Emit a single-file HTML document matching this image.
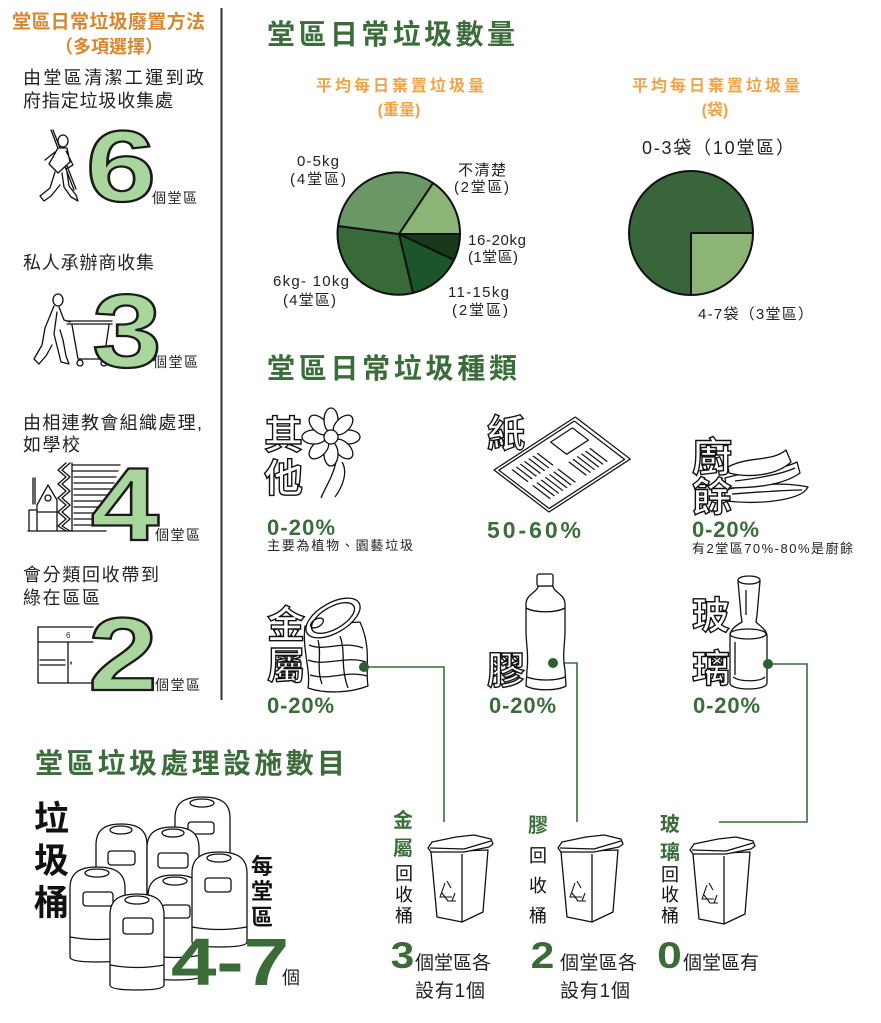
<!DOCTYPE html>
<html><head><meta charset="utf-8">
<style>
html,body{margin:0;padding:0;background:#fff;}
body{width:881px;height:1023px;overflow:hidden;}
svg{display:block;}
.o{fill:#fff;stroke:#111;stroke-width:1.4;font-weight:bold;}
.ln{fill:none;stroke:#111;stroke-width:1.3;stroke-linejoin:round;stroke-linecap:round;}
.wf{fill:#fff;stroke:#111;stroke-width:1.3;stroke-linejoin:round;}
</style></head>
<body>
<svg width="881" height="1023" viewBox="0 0 881 1023" xmlns="http://www.w3.org/2000/svg" font-family='"Liberation Sans","Noto Sans CJK TC",sans-serif'>

<!-- divider -->
<line x1="221.5" y1="8" x2="221.5" y2="700" stroke="#333" stroke-width="2"/>

<!-- LEFT COLUMN -->
<text x="12" y="28" font-size="19" font-weight="bold" fill="#d8872e" textLength="193">堂區日常垃圾廢置方法</text>
<text x="109" y="53" text-anchor="middle" font-size="18" font-weight="bold" fill="#d8872e">（多項選擇）</text>
<g font-size="18" fill="#222">
<text x="23" y="84" textLength="181">由堂區清潔工運到政</text>
<text x="23" y="107" textLength="150">府指定垃圾收集處</text>
<text x="23" y="269" textLength="131">私人承辦商收集</text>
<text x="23" y="429" textLength="179">由相連教會組織處理,</text>
<text x="23" y="451" textLength="57">如學校</text>
<text x="23" y="581" textLength="136">會分類回收帶到</text>
<text x="23" y="604" textLength="77">綠在區區</text>
</g>

<!-- worker -->
<g class="ln">
<line x1="51" y1="130" x2="74" y2="190"/>
<line x1="53" y1="130" x2="76" y2="189"/>
<ellipse cx="63" cy="141" rx="5" ry="6" fill="#fff"/>
<path d="M58,148 L49,164 L58,173 L70,162 L67,148 Z" fill="#fff"/>
<path d="M66,151 L73,165 L66,169"/>
<path d="M55,172 L50,188 L40,196 L44,201 L51,196 L60,185"/>
<path d="M62,173 L64,187 L71,197 L78,201 L76,195 L69,186 L67,172"/>
<path d="M45,160 L55,152"/>
</g>
<text transform="translate(121,201) scale(1.25,1)" text-anchor="middle" font-size="101" font-weight="bold" fill="#a9d69c" stroke="#1a1a1a" stroke-width="2.2">6</text>
<text x="152" y="203" font-size="14" fill="#222" textLength="45">個堂區</text>

<!-- cart person -->
<g class="ln">
<ellipse cx="58" cy="300" rx="5" ry="6"/>
<path d="M54,306 L45,328 L42,345 L34,359 L39,364 L46,356 L52,345"/>
<path d="M59,307 L64,320 L70,322"/>
<path d="M57,312 L54,334 L58,350 L61,362 L69,364 L66,356 L63,340 L60,330"/>
<line x1="67" y1="321" x2="112" y2="321"/>
<line x1="67" y1="324" x2="112" y2="324"/>
<path d="M72,325 L78,359 L104,359 L109,325"/>
<circle cx="80" cy="363" r="3"/>
<circle cx="104" cy="363" r="3"/>
</g>
<text transform="translate(127,367) scale(1.2,1)" text-anchor="middle" font-size="104" font-weight="bold" fill="#a9d69c" stroke="#1a1a1a" stroke-width="2.2">3</text>
<text x="153" y="367" font-size="14" fill="#222" textLength="45">個堂區</text>

<!-- building -->
<g class="ln" stroke-width="1.2">
<line x1="72" y1="465" x2="120" y2="465"/>
<line x1="72" y1="471" x2="118" y2="471"/>
<line x1="74" y1="477" x2="116" y2="477"/>
<line x1="74" y1="483" x2="114" y2="483"/>
<line x1="74" y1="489" x2="112" y2="489"/>
<line x1="74" y1="495" x2="110" y2="495"/>
<line x1="74" y1="501" x2="108" y2="501"/>
<line x1="74" y1="507" x2="106" y2="507"/>
<line x1="74" y1="513" x2="104" y2="513"/>
<line x1="74" y1="519" x2="102" y2="519"/>
<line x1="74" y1="525" x2="100" y2="525"/>
<line x1="72" y1="463" x2="72" y2="531"/>
<polyline points="66,463 58,470 66,477 58,484 66,491 58,498 66,505 58,512 66,519 58,526 66,531"/>
<polyline points="70,463 62,470 70,477 62,484 70,491 62,498 70,505 62,512 70,519 62,526 70,531"/>
<line x1="33" y1="478" x2="33" y2="504"/>
<line x1="35" y1="478" x2="35" y2="504"/>
<path d="M37,530 L37,505 L48,485 L57,500 L57,530"/>
<circle cx="48" cy="498" r="3"/>
<path d="M29,530 L29,510 L37,510"/>
<path d="M37,512 L57,512"/>
<line x1="28" y1="531" x2="106" y2="531"/>
</g>
<text transform="translate(125,540) scale(1.18,1)" text-anchor="middle" font-size="104" font-weight="bold" fill="#a9d69c" stroke="#1a1a1a" stroke-width="2.2">4</text>
<text x="155" y="540" font-size="14" fill="#222" textLength="45">個堂區</text>

<!-- cabinet -->
<g class="ln" stroke-width="1.2">
<line x1="38" y1="627" x2="93" y2="627"/>
<line x1="38" y1="642" x2="93" y2="642"/>
<line x1="38" y1="627" x2="38" y2="683"/>
<line x1="38" y1="683" x2="93" y2="683"/>
<line x1="68" y1="642" x2="68" y2="683"/>
<line x1="40" y1="660" x2="65" y2="660"/>
<line x1="40" y1="665" x2="65" y2="665"/>
<line x1="71" y1="662" x2="71" y2="664"/>
</g>
<text x="66" y="638" font-size="8" fill="#222">6</text>
<text transform="translate(123,690) scale(1.2,1)" text-anchor="middle" font-size="104" font-weight="bold" fill="#a9d69c" stroke="#1a1a1a" stroke-width="2.2">2</text>
<text x="155" y="690" font-size="14" fill="#222" textLength="45">個堂區</text>

<!-- RIGHT: quantities -->
<text x="267" y="44" font-size="28" font-weight="bold" fill="#3b6d3b" textLength="248">堂區日常垃圾數量</text>
<text x="316" y="91" font-size="16" font-weight="bold" fill="#f0a449" textLength="168">平均每日棄置垃圾量</text>
<text x="399" y="115" text-anchor="middle" font-size="16" font-weight="bold" fill="#f0a449">(重量)</text>
<text x="632" y="91" font-size="16" font-weight="bold" fill="#f0a449" textLength="168">平均每日棄置垃圾量</text>
<text x="715" y="115" text-anchor="middle" font-size="16" font-weight="bold" fill="#f0a449">(袋)</text>

<!-- pie 1 -->
<g stroke="#111" stroke-width="2" stroke-linejoin="round">
<path d="M399,234 L433,183 A61,61 0 0 1 460,234 Z" fill="#8cb476"/>
<path d="M399,234 L460,234 A61,61 0 0 1 454,260 Z" fill="#173a1b"/>
<path d="M399,234 L454,260 A61,61 0 0 1 413,293 Z" fill="#1d552a"/>
<path d="M399,234 L413,293 A61,61 0 0 1 338,226 Z" fill="#386a39"/>
<path d="M399,234 L338,226 A61,61 0 0 1 433,183 Z" fill="#6b9766"/>
</g>
<g font-size="15" fill="#222">
<text x="297" y="166" textLength="42">0-5kg</text>
<text x="290" y="184" textLength="56">(4堂區)</text>
<text x="458" y="175" textLength="48">不清楚</text>
<text x="454" y="192" textLength="55">(2堂區)</text>
<text x="468" y="245" textLength="58">16-20kg</text>
<text x="468" y="262" textLength="50">(1堂區)</text>
<text x="273" y="286" textLength="76">6kg- 10kg</text>
<text x="283" y="305" textLength="53">(4堂區)</text>
<text x="448" y="297" textLength="61">11-15kg</text>
<text x="452" y="315" textLength="56">(2堂區)</text>
</g>

<!-- pie 2 -->
<g stroke="#111" stroke-width="2" stroke-linejoin="round">
<path d="M691,233 L691,295 A62,62 0 1 1 753,233 Z" fill="#38663a"/>
<path d="M691,233 L753,233 A62,62 0 0 1 691,295 Z" fill="#8cb476"/>
</g>
<text x="642" y="154" font-size="18" fill="#222" textLength="152">0-3袋（10堂區）</text>
<text x="698" y="319" font-size="15" fill="#222" textLength="115">4-7袋（3堂區）</text>

<!-- TYPES -->
<text x="267" y="378" font-size="28" font-weight="bold" fill="#3b6d3b" textLength="250">堂區日常垃圾種類</text>

<!-- 其他 flower -->
<text x="264" y="449" font-size="39" class="o">其</text>
<text x="264" y="492" font-size="39" class="o">他</text>
<g class="wf">
<path d="M336,462 C333,476 326,486 321,498" fill="none"/>
<path d="M342,462 C348,472 343,486 335,497" fill="none"/>
<g transform="translate(331,437)">
<ellipse cx="17" cy="0" rx="12" ry="7" transform="rotate(0)"/>
<ellipse cx="17" cy="0" rx="12" ry="7" transform="rotate(45)"/>
<ellipse cx="17" cy="0" rx="12" ry="7" transform="rotate(90)"/>
<ellipse cx="17" cy="0" rx="12" ry="7" transform="rotate(135)"/>
<ellipse cx="17" cy="0" rx="12" ry="7" transform="rotate(180)"/>
<ellipse cx="17" cy="0" rx="12" ry="7" transform="rotate(225)"/>
<ellipse cx="17" cy="0" rx="12" ry="7" transform="rotate(270)"/>
<ellipse cx="17" cy="0" rx="12" ry="7" transform="rotate(315)"/>
<circle cx="0" cy="0" r="7"/>
</g>
</g>
<text x="267" y="535" font-size="22" font-weight="bold" fill="#3b6d3b" textLength="68">0-20%</text>
<text x="267" y="550" font-size="13" fill="#222" textLength="146">主要為植物、園藝垃圾</text>

<!-- 紙 newspaper -->
<g transform="matrix(0.838,-0.546,0.797,0.609,494,470)" class="wf" stroke-width="1.2">
<rect x="0" y="0" width="97" height="69"/>
<rect x="3" y="3" width="90" height="63" fill="none"/>
<g fill="none">
<line x1="12" y1="10" x2="12" y2="30"/><line x1="17" y1="10" x2="17" y2="30"/><line x1="22" y1="10" x2="22" y2="30"/><line x1="27" y1="10" x2="27" y2="30"/><line x1="32" y1="10" x2="32" y2="30"/><line x1="37" y1="10" x2="37" y2="30"/><line x1="42" y1="10" x2="42" y2="30"/>
<line x1="12" y1="36" x2="12" y2="58"/><line x1="17" y1="36" x2="17" y2="58"/><line x1="22" y1="36" x2="22" y2="58"/><line x1="27" y1="36" x2="27" y2="58"/><line x1="32" y1="36" x2="32" y2="58"/><line x1="37" y1="36" x2="37" y2="58"/><line x1="42" y1="36" x2="42" y2="58"/>
<rect x="60" y="8" width="26" height="20"/>
<line x1="55" y1="36" x2="55" y2="58"/><line x1="60" y1="36" x2="60" y2="58"/><line x1="65" y1="36" x2="65" y2="58"/><line x1="70" y1="36" x2="70" y2="58"/><line x1="75" y1="36" x2="75" y2="58"/><line x1="80" y1="36" x2="80" y2="58"/>
</g>
</g>
<text x="487" y="447" font-size="38" class="o">紙</text>
<text x="487" y="538" font-size="23" font-weight="bold" fill="#3b6d3b" textLength="94">50-60%</text>

<!-- 廚餘 food -->
<g class="wf" stroke-width="1.2">
<path d="M724,490 C752,484 786,482 808,487 C802,500 762,505 726,501 Z"/>
<path d="M725,478 C752,470 782,470 797,462 L800,473 C782,486 752,488 726,488 Z"/>
<path d="M728,467 C748,456 772,462 786,450 L791,462 C776,476 748,478 729,473 Z"/>
<path d="M732,494 C760,492 785,490 802,490" fill="none"/>
<path d="M735,481 C760,478 782,474 795,468" fill="none"/>
</g>
<text x="692" y="471" font-size="40" class="o">廚</text>
<text x="692" y="511" font-size="40" class="o">餘</text>
<text x="692" y="537" font-size="22" font-weight="bold" fill="#3b6d3b" textLength="67">0-20%</text>
<text x="692" y="553" font-size="13" fill="#222" textLength="161">有2堂區70%-80%是廚餘</text>

<!-- connectors -->
<g stroke="#3d6b3d" stroke-width="1.6" fill="none">
<polyline points="364,667 444,667 444,822"/>
<polyline points="553,663 577,663 577,822"/>
<polyline points="768,664 807,664 807,822 719,822"/>
</g>

<!-- 金屬 can -->
<g class="wf" stroke-width="1.2">
<path d="M305,626 C302,650 311,670 308,688 C325,694 350,693 368,686 C365,670 372,648 360,622 Z"/>
<path d="M309,645 C325,652 342,640 363,648" fill="none"/>
<path d="M308,660 C326,667 346,655 366,662" fill="none"/>
<path d="M310,675 C330,681 346,670 367,676" fill="none"/>
<path d="M318,640 C322,655 316,668 322,684" fill="none"/>
<path d="M340,636 C346,652 340,666 348,688" fill="none"/>
<ellipse cx="333" cy="618" rx="30" ry="15" transform="rotate(-30 333 618)"/>
<ellipse cx="333" cy="618" rx="24" ry="11" transform="rotate(-30 333 618)" fill="none"/>
<ellipse cx="317" cy="623" rx="7" ry="4" transform="rotate(-30 317 623)" fill="none"/>
</g>
<text x="267" y="638" font-size="38" class="o">金</text>
<text x="267" y="679" font-size="38" class="o">屬</text>
<circle cx="364" cy="667" r="5" fill="#2f5e30"/>
<text x="267" y="713" font-size="22" font-weight="bold" fill="#3b6d3b" textLength="67">0-20%</text>

<!-- 膠 bottle -->
<g class="wf" stroke-width="1.3">
<path d="M538,586 C538,592 526,594 526,604 L526,630 C526,645 529,655 527,670 L526,686 C535,691 557,691 566,686 L565,670 C562,655 565,645 565,630 L565,604 C565,594 553,592 553,586 Z"/>
<rect x="537" y="574" width="16" height="12" rx="2"/>
<path d="M526,608 C535,613 556,613 565,608" fill="none"/>
<path d="M527,677 C537,681 556,681 565,677" fill="none"/>
</g>
<text x="487" y="684" font-size="38" class="o">膠</text>
<circle cx="553" cy="663" r="5" fill="#2f5e30"/>
<text x="489" y="713" font-size="22" font-weight="bold" fill="#3b6d3b" textLength="67">0-20%</text>

<!-- 玻璃 bottle -->
<g class="wf" stroke-width="1.3">
<path d="M738,581 L741,615 L742,622 C735,626 730,630 730,636 L730,683 C730,691 767,691 767,683 L767,636 C767,630 760,626 756,622 L757,615 L760,581 Z"/>
<ellipse cx="749" cy="580" rx="11" ry="4"/>
<ellipse cx="748" cy="634" rx="18" ry="5" fill="none"/>
<path d="M733,677 C740,682 760,682 765,677" fill="none"/>
<line x1="746" y1="590" x2="746" y2="615"/>
<line x1="735" y1="642" x2="735" y2="675"/>
</g>
<text x="692" y="629" font-size="38" class="o">玻</text>
<text x="692" y="682" font-size="38" class="o">璃</text>
<circle cx="768" cy="664" r="5" fill="#2f5e30"/>
<text x="693" y="713" font-size="22" font-weight="bold" fill="#3b6d3b" textLength="67">0-20%</text>

<!-- FACILITIES -->
<text x="35" y="773" font-size="28" font-weight="bold" fill="#3b6d3b" textLength="310">堂區垃圾處理設施數目</text>
<g font-size="35" font-weight="bold" fill="#111">
<text x="34" y="831">垃</text>
<text x="34" y="873">圾</text>
<text x="34" y="915">桶</text>
</g>

<!-- bins -->
<g class="wf" stroke-width="1.4">
<path d="M175,905 L175,818 C175,802 185,797 202,797 C220,797 230,802 230,818 L230,905 Z"/>
<ellipse cx="202" cy="803" rx="12" ry="4"/>
<rect x="188" y="822" width="26" height="12" rx="3"/>
<path d="M96,935 L96,845 C96,829 106,824 121,824 C137,824 147,829 147,845 L147,935 Z"/>
<ellipse cx="121" cy="830" rx="11" ry="4"/>
<rect x="108" y="851" width="27" height="14" rx="3"/>
<path d="M147,945 L147,848 C147,832 157,827 173,827 C189,827 199,832 199,848 L199,945 Z"/>
<ellipse cx="173" cy="833" rx="11" ry="4"/>
<rect x="158" y="853" width="30" height="15" rx="3"/>
<path d="M148,975 L148,896 C148,880 158,875 175,875 C192,875 202,880 202,896 L202,975 Q202,980 175,980 Q148,980 148,975 Z"/>
<ellipse cx="175" cy="881" rx="12" ry="4"/>
<rect x="162" y="905" width="28" height="13" rx="3"/>
<path d="M148,955 Q175,960 202,955" fill="none"/>
<path d="M192,942 L192,873 C192,857 203,852 219,852 C236,852 247,857 247,873 L247,942 Q247,947 219,947 Q192,947 192,942 Z"/>
<ellipse cx="219" cy="858" rx="12" ry="4"/>
<rect x="205" y="878" width="26" height="14" rx="3"/>
<path d="M192,927 Q219,932 247,927" fill="none"/>
<path d="M70,957 L70,888 C70,872 81,867 97,867 C114,867 125,872 125,888 L125,957 Q125,962 97,962 Q70,962 70,957 Z"/>
<ellipse cx="97" cy="873" rx="12" ry="4"/>
<rect x="83" y="892" width="30" height="14" rx="3"/>
<path d="M70,937 Q97,942 125,937" fill="none"/>
<path d="M110,985 L110,915 C110,899 120,894 137,894 C154,894 164,899 164,915 L164,985 Q164,990 137,990 Q110,990 110,985 Z"/>
<ellipse cx="137" cy="900" rx="12" ry="4"/>
<rect x="123" y="918" width="30" height="16" rx="3"/>
<path d="M110,965 Q137,970 164,965" fill="none"/>
</g>
<g font-size="22" font-weight="bold" fill="#111">
<text x="251" y="874">每</text>
<text x="251" y="899">堂</text>
<text x="251" y="925">區</text>
</g>
<text transform="translate(230,985) scale(1.22,1)" text-anchor="middle" font-size="67" font-weight="bold" fill="#3b6b38">4-7</text>
<text x="282" y="984" font-size="18" fill="#222">個</text>

<!-- recycle bins -->
<g id="rb1" class="wf" stroke-width="1.3" transform="translate(428,835)">
<path d="M3,17 L9,82 L34,87 L55,77 L60,15 Z"/>
<line x1="34" y1="19" x2="34" y2="87"/>
<path d="M0,13 L4,7 L28,2 L46,0 L63,4 L65,9 L61,12 L36,17 L3,17 Z"/>
<path d="M2,13 L36,14 L63,6" fill="none"/>
<g fill="none" stroke-width="1.1">
<path d="M17,48 L12,62 L24,62"/>
<path d="M19,46 L23,53"/>
<path d="M27,58 L24,66"/>
<path d="M14,58 L20,66 L28,66"/>
</g>
</g>
<use href="#rb1" transform="translate(130,0)"/>
<use href="#rb1" transform="translate(262,2)"/>

<g font-size="20" font-weight="bold" fill="#3b6d3b">
<text x="393" y="827">金</text>
<text x="393" y="855">屬</text>
<text x="528" y="832">膠</text>
<text x="660" y="831">玻</text>
<text x="660" y="859">璃</text>
</g>
<g font-size="18" fill="#111">
<text x="395" y="880">回</text>
<text x="395" y="901">收</text>
<text x="395" y="922">桶</text>
<text x="529" y="862">回</text>
<text x="529" y="892">收</text>
<text x="529" y="922">桶</text>
<text x="661" y="881">回</text>
<text x="661" y="901">收</text>
<text x="661" y="922">桶</text>
</g>
<g font-size="37" font-weight="bold" fill="#3b6b38" text-anchor="middle">
<text transform="translate(402.5,968) scale(1.15,1)">3</text>
<text transform="translate(542.5,968) scale(1.15,1)">2</text>
<text transform="translate(669.5,968) scale(1.2,1)">0</text>
</g>
<g font-size="19" fill="#222">
<text x="415" y="969" textLength="76">個堂區各</text>
<text x="415" y="997" textLength="70">設有1個</text>
<text x="560" y="969" textLength="77">個堂區各</text>
<text x="560" y="997" textLength="70">設有1個</text>
<text x="683" y="969" textLength="76">個堂區有</text>
</g>

</svg>
</body></html>
